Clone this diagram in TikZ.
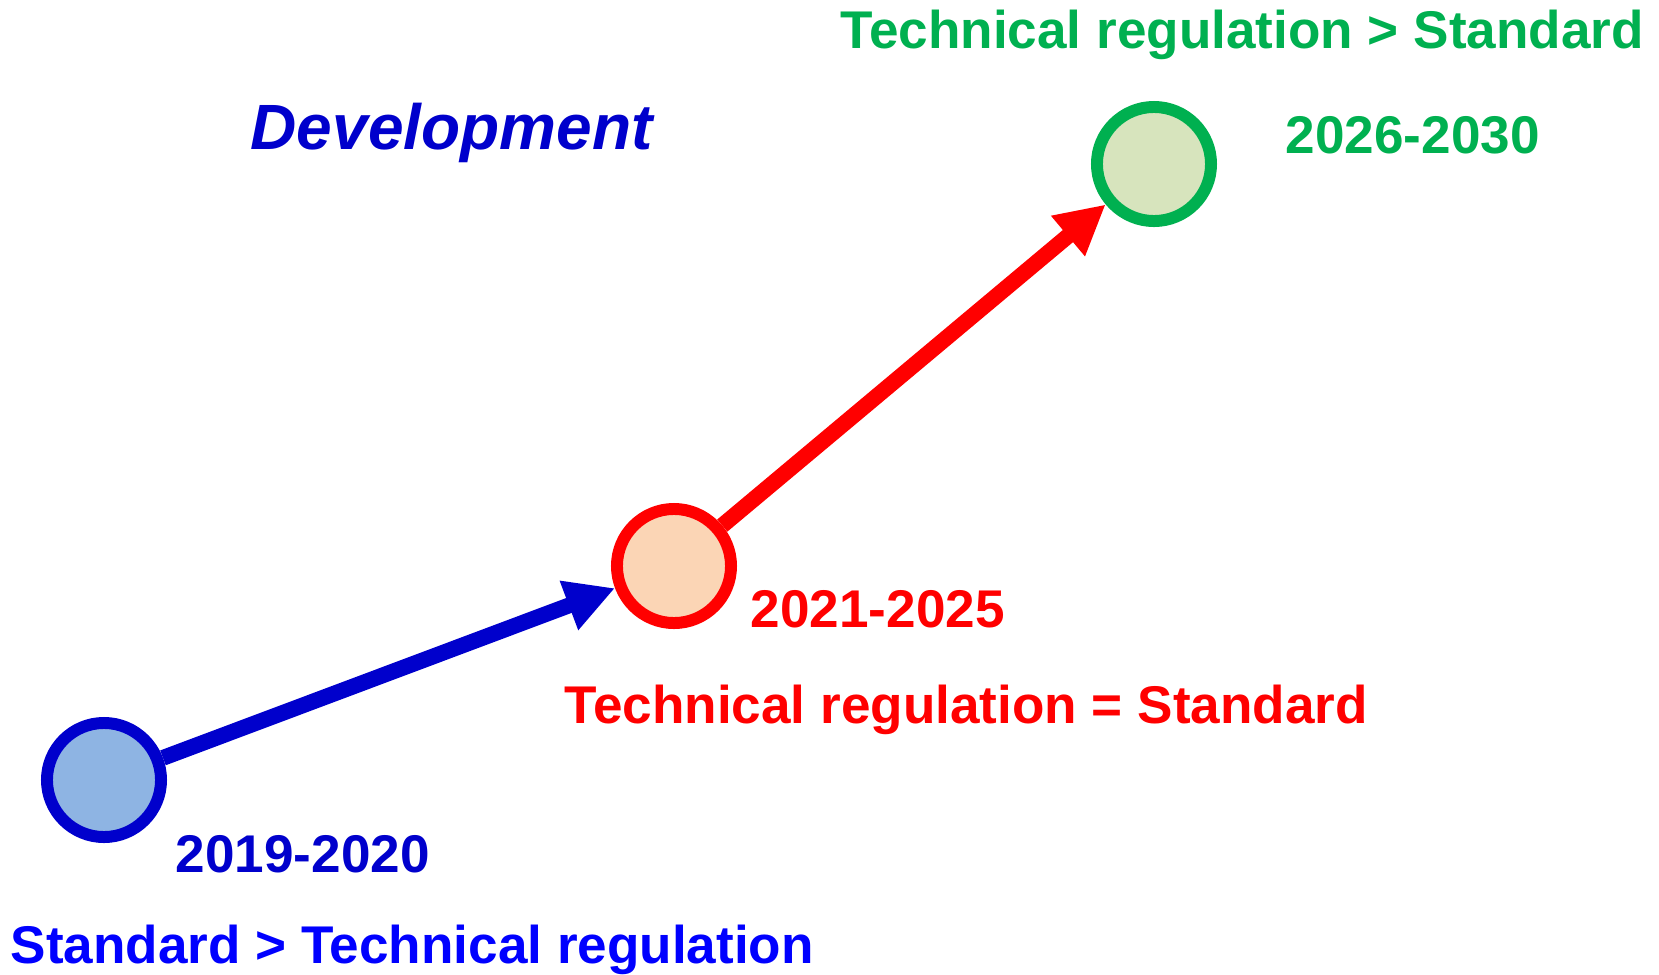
\documentclass[tikz,border=0pt]{standalone}
\usepackage{fontspec}
\setmainfont{Liberation Sans}
\usetikzlibrary{arrows.meta}
\definecolor{dkblue}{HTML}{0000CC}
\definecolor{ltblue}{HTML}{8EB4E3}
\definecolor{peach}{HTML}{FBD5B5}
\definecolor{ofgreen}{HTML}{00B050}
\definecolor{ltgreen}{HTML}{D7E4BD}
\tikzset{
  stage/.style={circle, line width=3.4pt, minimum size=1.14cm, inner sep=0pt},
  flow/.style={line width=4.5pt, -{Triangle[length=14pt,width=14pt]}},
  lbl/.style={anchor=base west, inner sep=0pt, font=\fontsize{15.1pt}{18pt}\selectfont\bfseries}
}
\begin{document}
\begin{tikzpicture}[x=0.01cm, y=-0.01cm]
    \useasboundingbox (0,0) rectangle (1659,975);

    % the three stages
    \node[stage, draw=dkblue, fill=ltblue] (early) at (104,780) {};
    \node[stage, draw=red, fill=peach] (mid) at (674,566) {};
    \node[stage, draw=ofgreen, fill=ltgreen] (late) at (1154,164) {};

    \draw[flow, dkblue] (early) -- (mid);
    \draw[flow, red] (mid) -- (late);

    % labels
    \node[lbl, dkblue, font=\fontsize{18.2pt}{21pt}\selectfont\bfseries\itshape] (dev) at (250,149) {Development};
    \node[lbl, ofgreen] (lateyr) at (1285,153) {2026-2030};
    \node[lbl, ofgreen] (laterule) at (840,48) {Technical regulation > Standard};
    \node[lbl, red] (midyr) at (750,627) {2021-2025};
    \node[lbl, red] (midrule) at (564,723) {Technical regulation = Standard};
    \node[lbl, dkblue] (earlyyr) at (175,872) {2019-2020};
    \node[lbl, blue] (earlyrule) at (10,963) {Standard > Technical regulation};
\end{tikzpicture}
\end{document}
